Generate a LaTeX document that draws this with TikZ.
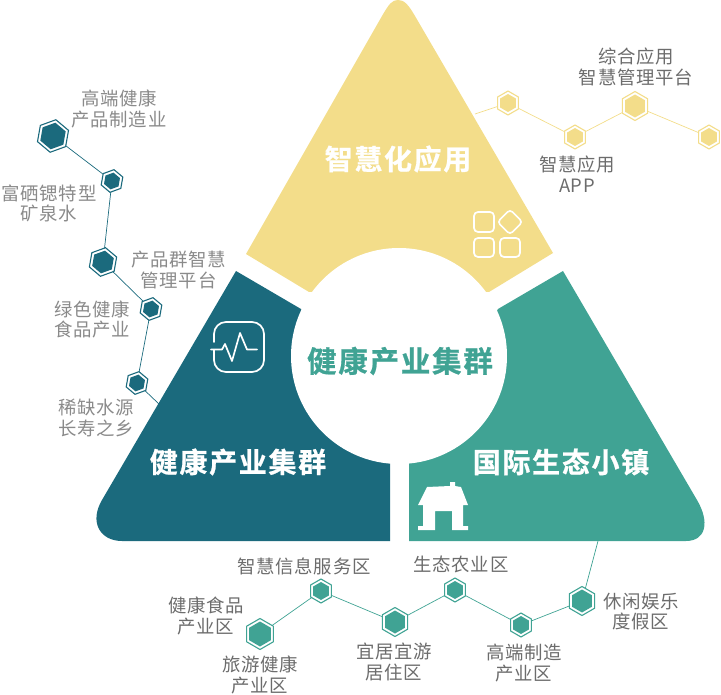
\documentclass[tikz,border=0pt]{standalone}
\usepackage{fontspec}
\setmainfont[LetterSpace=4]{Noto Sans CJK SC}
\newfontfamily\titlefont[LetterSpace=6,FakeBold=0.8]{Noto Sans CJK SC Bold}
\usetikzlibrary{shapes.geometric}
\definecolor{cyellow}{HTML}{F3DD8A}
\definecolor{cdark}{HTML}{1B6A7D}
\definecolor{cteal}{HTML}{40A394}
\definecolor{cgrayA}{HTML}{8A8A8A}
\definecolor{cgrayB}{HTML}{6C6C6C}
\tikzset{
  hexbase/.style={regular polygon,regular polygon sides=6,inner sep=0pt,outer sep=0pt},
  linkline/.style={line width=.7pt},
  lbl/.style={font=\fontsize{18.4}{20.5}\selectfont,align=center,inner sep=0pt},
  lblA/.style={lbl,text=cgrayA},
  lblB/.style={lbl,text=cgrayB},
  ttl/.style={font=\titlefont\fontsize{28}{30}\selectfont,inner sep=0pt,text=white},
  iconline/.style={draw=white,line width=1.7pt,line join=round,line cap=round},
}
% name, position, radius, colour, rotation
\newcommand{\hexn}[5]{%
  \node[hexbase,draw=#4,line width=1.1pt,fill=white,minimum size=#3*2pt,regular polygon rotate=#5] (#1) at (#2) {};
  \node[hexbase,fill=#4,minimum size=#3*2pt-6pt,regular polygon rotate=#5] (#1-i) at (#1.center) {};
}
\begin{document}
\begin{tikzpicture}[x=1pt,y=-1pt]
\useasboundingbox (0,0) rectangle (721,695);
% sectors
\fill[cyellow] (246,254) -- (382,16) .. controls (389,4) and (392,0) .. (398,0) .. controls (404,0) and (408,4) .. (415,16) -- (553,253) -- (489,292) -- (309,292) -- cycle;
\fill[cdark] (236,271) -- (301,309) -- (390,463) -- (390,541) -- (122,541) .. controls (100,541) and (89,522) .. (102,500) -- cycle;
\fill[cteal] (563,271) -- (498,309) -- (409,463) -- (409,541) -- (686,541) .. controls (706,541) and (710,522) .. (697,500) -- cycle;
\node[circle,fill=white,minimum size=216pt,inner sep=0pt] (hub) at (399,356) {};
% titles
\node[ttl] (t1) at (398,159) {智慧化应用};
\node[ttl,text=cteal,font=\titlefont\fontsize{29.5}{30}\selectfont] (t2) at (400,361) {健康产业集群};
\node[ttl] (t3) at (238,462) {健康产业集群};
\node[ttl] (t4) at (561,462) {国际生态小镇};
% app icon
\draw[iconline,rounded corners=4pt] (474,212) rectangle (494,232);
\draw[iconline,rounded corners=4pt] (474,238) rectangle (494,257);
\draw[iconline,rounded corners=4pt] (500,238) rectangle (520,257);
\draw[iconline,rounded corners=3.5pt] (510,209.5) -- (522.5,222) -- (510,234.5) -- (497.5,222) -- cycle;
% pulse icon
\draw[iconline,rounded corners=12pt] (214,342) -- (214,322) -- (264,322) -- (264,372) -- (214,372) -- (214,350);
\draw[iconline] (211,349.5) -- (222,349.5) -- (225,344) -- (232,361) -- (240,333) -- (247,349.5) -- (257,349.5);
% house icon
\fill[white] (450,482) -- (455,482) -- (455,486) -- (461,487) -- (468,505) -- (463,505) -- (463,526) -- (468,526) -- (468,530) -- (452,530) -- (452,511) -- (435,511) -- (435,530) -- (418,530) -- (418,526) -- (423,526) -- (423,505) -- (418,505) -- (427,487) -- (450,486) -- cycle;
% left chain
\hexn{la}{53,136}{16.5}{cdark}{20}
\hexn{lb}{112,181}{11.5}{cdark}{20}
\hexn{lc}{103,262}{14.5}{cdark}{20}
\hexn{ld}{151,309}{11.5}{cdark}{20}
\hexn{le}{137,383}{11.5}{cdark}{20}
\coordinate (lend) at (160,405);
\draw[linkline,cdark] (la) -- (lb);
\draw[linkline,cdark] (lb) -- (lc);
\draw[linkline,cdark] (lc) -- (ld);
\draw[linkline,cdark] (ld) -- (le);
\draw[linkline,cdark] (le) -- (lend);
% top chain
\hexn{ya}{508,103}{12}{cyellow}{30}
\hexn{yb}{575,137}{12}{cyellow}{30}
\hexn{yc}{635,106}{14.5}{cyellow}{30}
\hexn{yd}{709,137}{12}{cyellow}{30}
\coordinate (yend) at (475,114);
\draw[linkline,cyellow] (yend) -- (ya);
\draw[linkline,cyellow] (ya) -- (yb);
\draw[linkline,cyellow] (yb) -- (yc);
\draw[linkline,cyellow] (yc) -- (yd);
% bottom chain
\hexn{ba}{260,634}{15.5}{cteal}{30}
\hexn{bb}{321,591}{12}{cteal}{30}
\hexn{bc}{395,622}{14.5}{cteal}{30}
\hexn{bd}{455,590}{12}{cteal}{30}
\hexn{be}{521,625}{12}{cteal}{30}
\hexn{bf}{582,601}{14.5}{cteal}{30}
\coordinate (bend) at (598,541);
\draw[linkline,cteal] (ba) -- (bb);
\draw[linkline,cteal] (bb) -- (bc);
\draw[linkline,cteal] (bc) -- (bd);
\draw[linkline,cteal] (bd) -- (be);
\draw[linkline,cteal] (be) -- (bf);
\draw[linkline,cteal] (bf) -- (bend);
% labels
\node[lblA] (l1) at (119,109) {高端健康\\产品制造业};
\node[lblA] (l2) at (49,203.5) {富硒锶特型\\矿泉水};
\node[lblA] (l3) at (178.5,270) {产品群智慧\\管理平台};
\node[lblA] (l4) at (92,319.5) {绿色健康\\食品产业};
\node[lblA] (l5) at (96,418) {稀缺水源\\长寿之乡};
\node[lblB] (l6) at (636,67) {综合应用\\智慧管理平台};
\node[lblB] (l7) at (577,174) {智慧应用\\APP};
\node[lblB] (l8) at (304,566) {智慧信息服务区};
\node[lblB] (l9) at (461,564) {生态农业区};
\node[lblB] (l10) at (206,616) {健康食品\\产业区};
\node[lblB] (l11) at (260,675) {旅游健康\\产业区};
\node[lblB] (l12) at (394,662) {宜居宜游\\居住区};
\node[lblB] (l13) at (524,663) {高端制造\\产业区};
\node[lblB] (l14) at (641,611.5) {休闲娱乐\\度假区};
\end{tikzpicture}
\end{document}
